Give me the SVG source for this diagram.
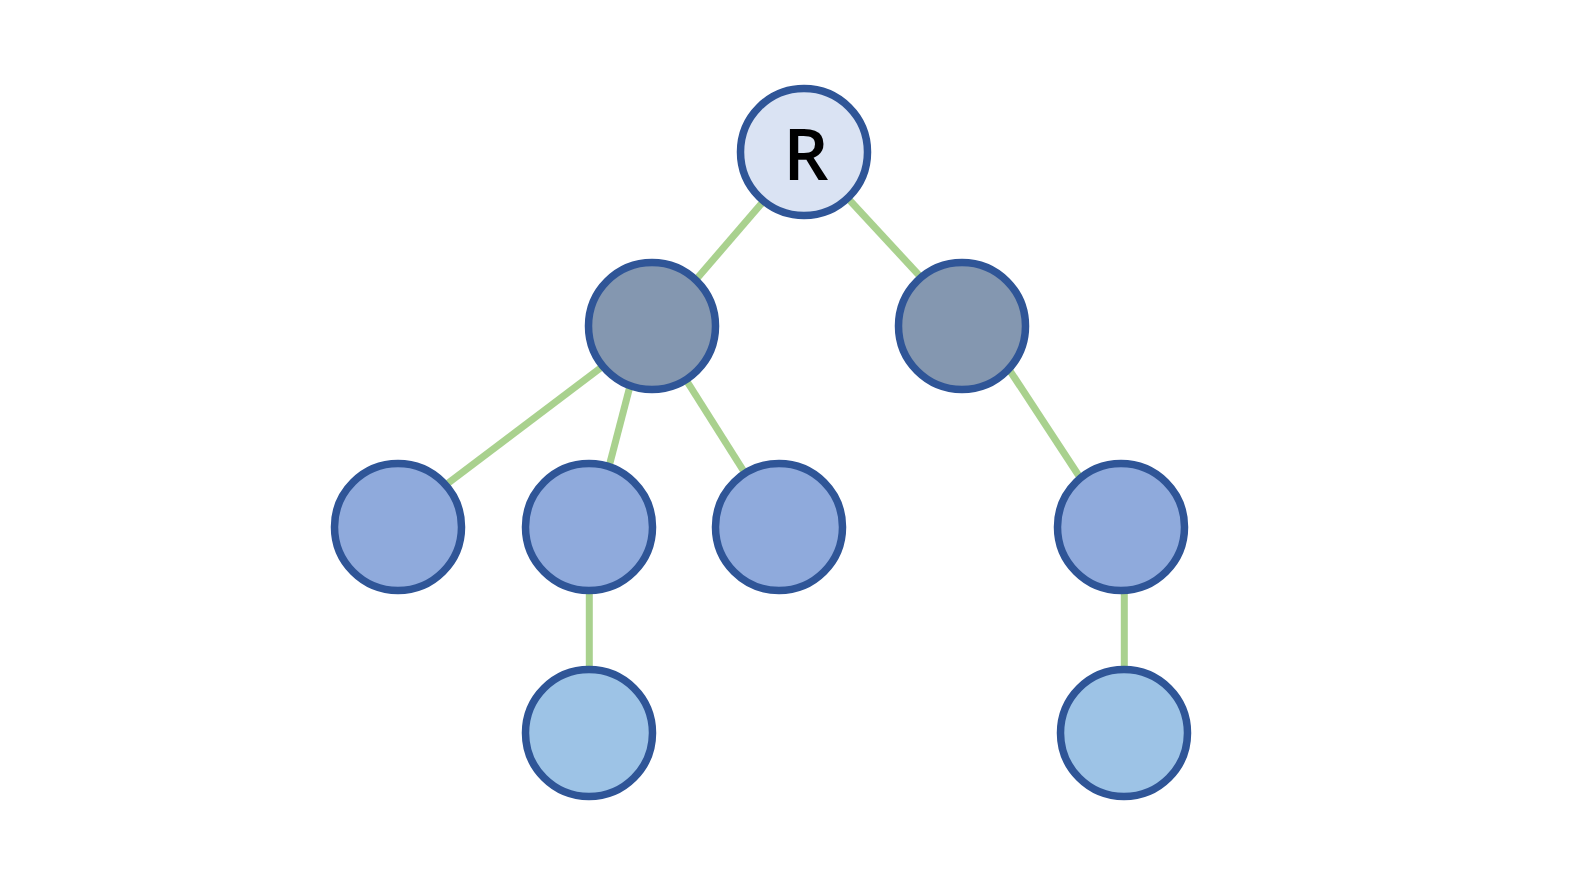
<svg xmlns="http://www.w3.org/2000/svg" width="1592" height="896" viewBox="0 0 1592 896">
<style>
.edge{stroke:#A9D18E;stroke-width:7;fill:none}
.node{stroke:#2F5597;stroke-width:7.5}
.root{fill:#DAE3F3}
.l1{fill:#8497B0}
.l2{fill:#8FAADC}
.l3{fill:#9DC3E6}
.lbl{font-family:"Open Sans","Noto Sans",sans-serif;font-weight:600;font-size:71px;fill:#000;text-anchor:middle}
</style>
<rect width="1592" height="896" fill="#fff"/>
<g id="connectors">
<line class="edge" x1="806" y1="152" x2="656" y2="326"/>
<line class="edge" x1="805" y1="152" x2="966" y2="326"/>
<line class="edge" x1="656" y1="326" x2="390" y2="527"/>
<line class="edge" x1="639.4" y1="350" x2="600.3" y2="500"/>
<line class="edge" x1="652" y1="326" x2="779" y2="527"/>
<line class="edge" x1="999.6" y1="355" x2="1084.9" y2="485"/>
<line class="edge" x1="589.3" y1="527" x2="589.3" y2="733"/>
<line class="edge" x1="1124.3" y1="527" x2="1124.3" y2="733"/>
</g>
<g id="nodeR"><circle class="node root" cx="804" cy="152" r="63.5"/><text class="lbl" x="806" y="180">R</text></g>
<g id="nodeA"><circle class="node l1" cx="652" cy="326" r="63.5"/></g>
<g id="nodeB"><circle class="node l1" cx="962" cy="326" r="63.5"/></g>
<g id="nodeA1"><circle class="node l2" cx="398" cy="527" r="63.5"/></g>
<g id="nodeA2"><circle class="node l2" cx="589" cy="527" r="63.5"/></g>
<g id="nodeA3"><circle class="node l2" cx="779" cy="527" r="63.5"/></g>
<g id="nodeB1"><circle class="node l2" cx="1121" cy="527" r="63.5"/></g>
<g id="nodeA2a"><circle class="node l3" cx="589" cy="733" r="63.5"/></g>
<g id="nodeB1a"><circle class="node l3" cx="1124" cy="733" r="63.5"/></g>
</svg>
